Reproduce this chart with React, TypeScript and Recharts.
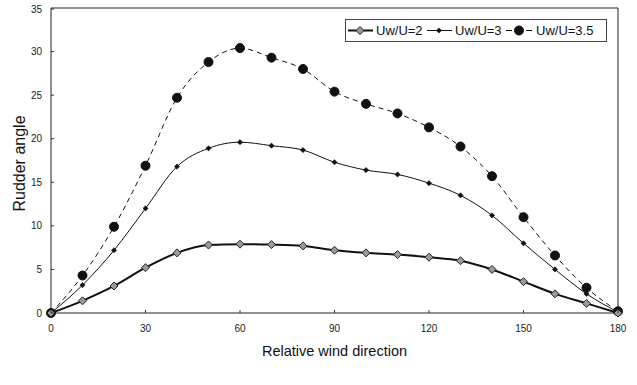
import React from 'react';
import { LineChart, Line, XAxis, YAxis, Legend, ReferenceLine } from 'recharts';

const angles = [0, 10, 20, 30, 40, 50, 60, 70, 80, 90, 100, 110, 120, 130, 140, 150, 160, 170, 180];
const u2 = [0, 1.4, 3.1, 5.2, 6.9, 7.8, 7.9, 7.85, 7.7, 7.2, 6.9, 6.7, 6.4, 6.0, 5.0, 3.6, 2.2, 1.1, 0];
const u3 = [0, 3.2, 7.2, 12.0, 16.8, 18.9, 19.6, 19.2, 18.7, 17.3, 16.4, 15.9, 14.9, 13.5, 11.2, 8.0, 5.0, 2.2, 0.1];
const u35 = [0, 4.3, 9.9, 16.9, 24.7, 28.8, 30.4, 29.3, 28.0, 25.4, 24.0, 22.9, 21.3, 19.1, 15.7, 11.0, 6.6, 2.9, 0.2];
const xTicks = [0, 30, 60, 90, 120, 150, 180];
const yTicks = [0, 5, 10, 15, 20, 25, 30, 35];
const seriesNames = ['Uw/U=2', 'Uw/U=3', 'Uw/U=3.5'];

const data = angles.map((a, i) => ({ angle: a, u2: u2[i], u3: u3[i], u35: u35[i] }));

const FONT = '"Liberation Sans", Arial, sans-serif';

const GreyDiamond = (props: any) => {
  const { cx, cy } = props;
  if (cx == null || cy == null) return null;
  const r = 4;
  return <path d={`M${cx},${cy - r}L${cx + r},${cy}L${cx},${cy + r}L${cx - r},${cy}Z`} fill="#9a9a9a" stroke="#222" strokeWidth={1} />;
};
const SmallDiamond = (props: any) => {
  const { cx, cy } = props;
  if (cx == null || cy == null) return null;
  const r = 2.6;
  return <path d={`M${cx},${cy - r}L${cx + r},${cy}L${cx},${cy + r}L${cx - r},${cy}Z`} fill="#111" stroke="#111" strokeWidth={0.6} />;
};
const BigDot = (props: any) => {
  const { cx, cy } = props;
  if (cx == null || cy == null) return null;
  return <circle cx={cx} cy={cy} r={4.5} fill="#111" stroke="#111" />;
};

const XTick = (props: any) => {
  const { x, y, payload } = props;
  return (
    <g>
      <line x1={x} x2={x} y1={y - 12} y2={y - 15} stroke="#333" />
      <text x={x} y={y + 7} textAnchor="middle" fontSize={10} fill="#222" fontFamily={FONT}>{payload.value}</text>
    </g>
  );
};
const YTick = (props: any) => {
  const { x, y, payload } = props;
  return (
    <g>
      <line x1={x + 9} x2={x + 12} y1={y} y2={y} stroke="#333" />
      <text x={x} y={y + 3.5} textAnchor="end" fontSize={10} fill="#222" fontFamily={FONT}>{payload.value}</text>
    </g>
  );
};

const LegendContent = () => {
  const cy = 11.5;
  return (
    <svg width={262} height={23} style={{ display: 'block' }}>
      <rect x={0.5} y={0.5} width={261} height={22} fill="#fff" stroke="#444" />
      <line x1={3} x2={28} y1={cy} y2={cy} stroke="#111" strokeWidth={2} />
      <GreyDiamond cx={15} cy={cy} />
      <text x={31} y={cy + 4.5} fontSize={13} fontFamily={FONT} fill="#111">{seriesNames[0]}</text>
      <line x1={82} x2={107} y1={cy} y2={cy} stroke="#111" strokeWidth={1} />
      <SmallDiamond cx={94} cy={cy} />
      <text x={110} y={cy + 4.5} fontSize={13} fontFamily={FONT} fill="#111">{seriesNames[1]}</text>
      <line x1={161} x2={167} y1={cy} y2={cy} stroke="#111" strokeWidth={1} />
      <line x1={181} x2={187} y1={cy} y2={cy} stroke="#111" strokeWidth={1} />
      <BigDot cx={174} cy={cy} />
      <text x={191} y={cy + 4.5} fontSize={13} fontFamily={FONT} fill="#111">{seriesNames[2]}</text>
    </svg>
  );
};

export default function App() {
  return (
    <div style={{ position: 'absolute', left: 0, top: 0, width: 637, height: 385, background: '#fff' }}>
      <LineChart width={637} height={385} data={data} margin={{ top: 8, right: 19, left: 0, bottom: 0 }}>
        <XAxis
          dataKey="angle"
          type="number"
          domain={[0, 180]}
          ticks={xTicks}
          height={49}
          tickLine={false}
          tickSize={0}
          tickMargin={12}
          stroke="#222"
          tick={<XTick />}
          label={{ value: 'Relative wind direction', position: 'insideBottom', offset: 6, fontSize: 14.5, fontFamily: FONT, fill: '#111' }}
        />
        <YAxis
          type="number"
          domain={[0, 35]}
          ticks={yTicks}
          width={51}
          tickLine={false}
          tickSize={0}
          tickMargin={9}
          stroke="#222"
          tick={<YTick />}
          label={{ value: 'Rudder angle', angle: -90, position: 'insideLeft', offset: 19, dy: 3, fontSize: 16, fontFamily: FONT, fill: '#111', style: { textAnchor: 'middle' } }}
        />
        <ReferenceLine y={35} stroke="#222" strokeWidth={1} />
        <ReferenceLine x={180} stroke="#222" strokeWidth={1} />
        <Legend content={<LegendContent />} wrapperStyle={{ position: 'absolute', top: 19, left: 345, width: 262 }} />
        <Line type="monotone" dataKey="u35" name={seriesNames[2]} stroke="#111" strokeWidth={1} strokeDasharray="5 4" dot={<BigDot />} isAnimationActive={false} />
        <Line type="monotone" dataKey="u3" name={seriesNames[1]} stroke="#111" strokeWidth={1} dot={<SmallDiamond />} isAnimationActive={false} />
        <Line type="monotone" dataKey="u2" name={seriesNames[0]} stroke="#111" strokeWidth={2} dot={<GreyDiamond />} isAnimationActive={false} />
      </LineChart>
    </div>
  );
}
